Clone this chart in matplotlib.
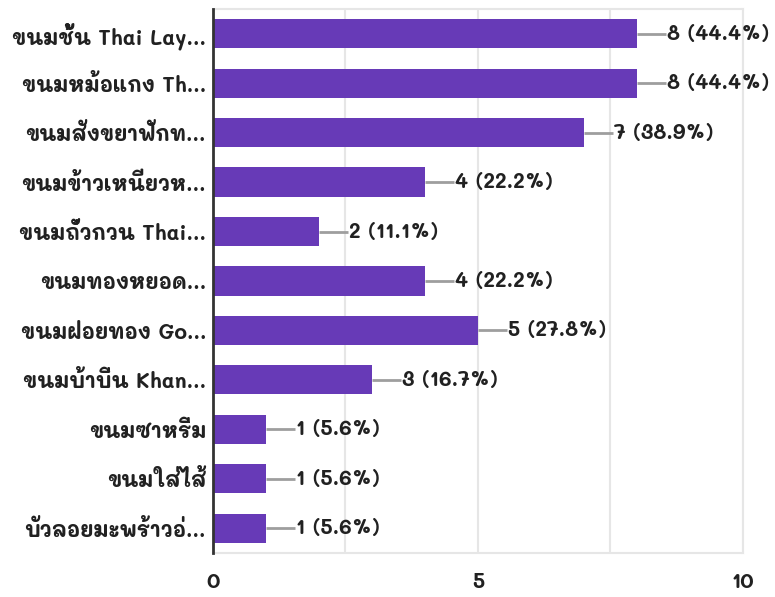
import matplotlib
matplotlib.use("Agg")
import matplotlib.pyplot as plt
import numpy as np

plt.rcParams['font.family'] = ['Mali', 'DejaVu Sans']

# ข้อมูล
labels = [
    "ขนมชั้น Thai Lay...",
    "ขนมหม้อแกง Th...",
    "ขนมสังขยาฟักท...",
    "ขนมข้าวเหนียวห...",
    "ขนมถั่วกวน Thai...",
    "ขนมทองหยอด...",
    "ขนมฝอยทอง Go...",
    "ขนมบ้าบิ่น Khan...",
    "ขนมซาหริ่ม",
    "ขนมใส่ไส้",
    "บัวลอยมะพร้าวอ่...",
]
counts = [8, 8, 7, 4, 2, 4, 5, 3, 1, 1, 1]
percents = ["44.4%", "44.4%", "38.9%", "22.2%", "11.1%", "22.2%",
            "27.8%", "16.7%", "5.6%", "5.6%", "5.6%"]
xticks = [0, 5, 10]

bar_color = '#673ab7'
grid_color = '#e6e6e6'
text_color = '#212121'

fig = plt.figure(figsize=(7.75, 5.97), dpi=100)
ax = fig.add_axes([0.2748, 0.0737, 0.6839, 0.9113])

y = np.arange(len(labels))
ax.barh(y, counts, height=0.59, color=bar_color, zorder=3)

# เส้นนำและป้ายค่า
for yi, c, p in zip(y, counts, percents):
    ax.plot([c, c + 0.55], [yi, yi], color='#9e9e9e', lw=2, zorder=2,
            solid_capstyle='butt')
    ax.text(c + 0.56, yi, f"{c} ({p})", va='center', ha='left',
            fontsize=15, fontweight='bold', color=text_color)

ax.set_xlim(0, 10)
ax.set_ylim(len(labels) - 0.5, -0.5)
ax.set_yticks(y)
ax.set_yticklabels(labels, fontsize=15, fontweight='bold', color=text_color)
ax.set_xticks(xticks)
ax.set_xticklabels([str(t) for t in xticks], fontsize=15, fontweight='bold',
                   color=text_color)
ax.set_xticks([2.5, 7.5], minor=True)
ax.tick_params(axis='both', which='both', length=0)
ax.tick_params(axis='x', pad=13)
ax.tick_params(axis='y', pad=5)

ax.grid(axis='x', which='both', color=grid_color, lw=1.5, zorder=0)
for side in ['top', 'right', 'bottom']:
    ax.spines[side].set_color(grid_color)
    ax.spines[side].set_linewidth(1.5)
ax.spines['left'].set_color('#333333')
ax.spines['left'].set_linewidth(2)
ax.spines['left'].set_zorder(4)

fig.savefig('out.png', dpi=100)
